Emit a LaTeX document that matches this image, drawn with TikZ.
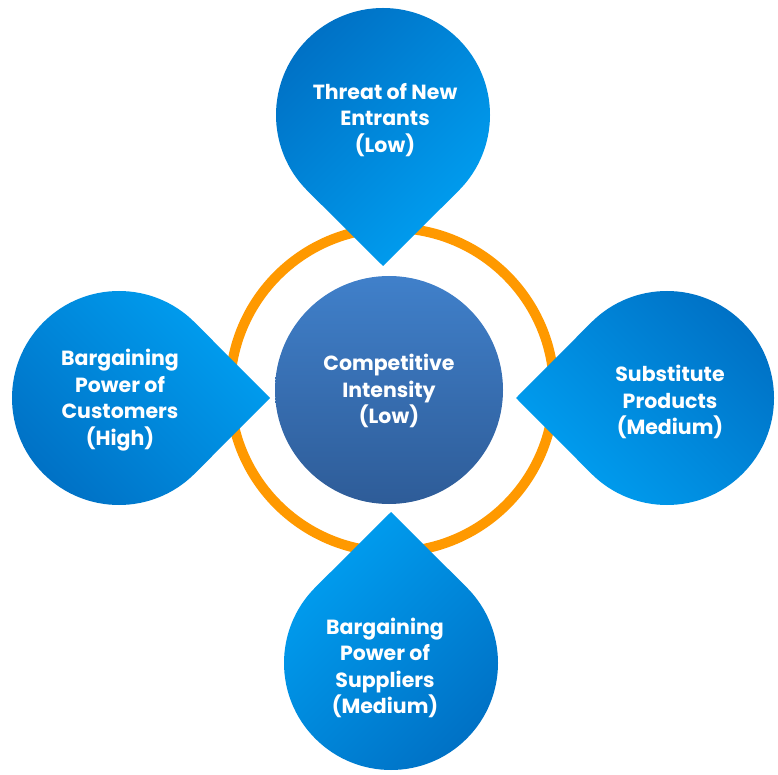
\documentclass[tikz,border=0pt]{standalone}
\usepackage{fontspec}
\setmainfont{Poppins}
\definecolor{dropdark}{RGB}{0,112,196}
\definecolor{droplight}{RGB}{0,160,242}
\definecolor{hubtop}{RGB}{64,128,202}
\definecolor{hubbottom}{RGB}{46,92,152}
\definecolor{ringorange}{RGB}{255,153,0}

\begin{document}
\begin{tikzpicture}[x=1pt,y=1pt,
    force/.style={text=white,align=center,font=\fontsize{20.5}{26.5}\selectfont\bfseries},
    drop/.style={top color=dropdark,bottom color=droplight,draw=none}]
    \useasboundingbox (0,0) rectangle (778,774);
    % rivalry ring
    \draw[ringorange,line width=10pt] (392,384) circle[radius=162pt];
    % hub
    \shade[top color=hubtop,bottom color=hubbottom] (389,384) circle[radius=114pt];
    \node[force] (hub) at (389,383) {Competitive\\Intensity\\(Low)};
    % drops, tip towards the hub
    \foreach \cx/\cy/\a/\s in {383/659/-90/45,667/376/180/-45,391/111/90/-135,119/376/0/135}
      \shade[drop,shading angle=\s] ([shift={(\a:151)}]\cx,\cy)
        -- ([shift={(\a+45:107)}]\cx,\cy)
        arc[start angle=\a+45,delta angle=270,radius=107pt] -- cycle;
    % forces
    \node[force] (entrants) at (385,654) {Threat of New\\Entrants\\(Low)};
    \node[force] (substitutes) at (670,372) {Substitute\\Products\\(Medium)};
    \node[force] (customers) at (120,374) {Bargaining\\Power of\\Customers\\(High)};
    \node[force] (suppliers) at (385,106) {Bargaining\\Power of\\Suppliers\\(Medium)};
\end{tikzpicture}
\end{document}
